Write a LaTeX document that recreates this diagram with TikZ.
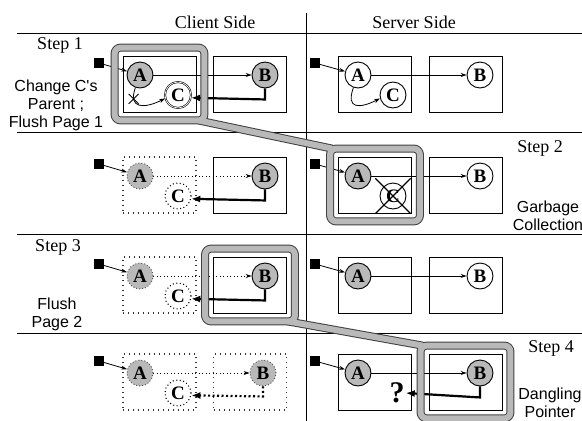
\documentclass[tikz,border=0pt]{standalone}
\usepackage{fontspec}
\setmainfont{Liberation Serif}
\newfontfamily\lsans{Liberation Sans}
\usetikzlibrary{arrows.meta,shapes.misc,calc}
\tikzset{
  pagebox/.style={draw, line width=0.8pt, minimum width=73pt, minimum height=56pt, inner sep=0pt},
  dotbox/.style={pagebox, draw=black!80, dash pattern=on 1pt off 4pt, line width=1.1pt},
  obj/.style={circle, draw, line width=0.9pt, minimum size=26pt, inner sep=0pt, font=\fontsize{19}{19}\selectfont\bfseries},
  objg/.style={obj, fill=gray!55},
  objgd/.style={obj, fill=gray!55, draw=black!70, dash pattern=on 1pt off 2pt},
  objd/.style={obj, dash pattern=on 1pt off 2.5pt, line width=1.1pt},
  rootsq/.style={fill=black, draw, minimum size=9pt, inner sep=0pt},
  thinarr/.style={line width=0.8pt, -{Stealth[length=6pt,width=4pt]}},
  dotarr/.style={thinarr, dash pattern=on 1pt off 2.5pt},
  thickarr/.style={line width=2.2pt, -{Latex[length=9pt,width=7pt]}},
  thickdot/.style={thickarr, dash pattern=on 2pt off 2.5pt},
  seprule/.style={line width=1pt},
  bandout/.style={draw=black!75, line width=8pt, rounded corners=6pt, line join=round},
  bandin/.style={draw=gray!55, line width=6pt, rounded corners=6pt, line join=round},
  hdr/.style={font=\fontsize{18}{18}\selectfont},
  lbl/.style={font=\lsans\fontsize{16}{18}\selectfont, align=center},
  xmark/.style={draw, cross out, inner sep=0pt},
}
\newcommand\fbands[1]{%
  \draw[#1] ($(cAb1.north west)+(-8,-8)$) rectangle ($(cAb1.south east)+(8,8)$);
  \draw[#1] ($(sAb2.north west)+(-8,-8)$) rectangle ($(sAb2.south east)+(8,8)$);
  \draw[#1] ($(cBb3.north west)+(-8,-8)$) rectangle ($(cBb3.south east)+(8,8)$);
  \draw[#1] ($(sBb4.north west)+(-8,-8)$) rectangle ($(sBb4.south east)+(8,8)$);
  \draw[#1, rounded corners=0pt, line cap=butt] ($(cAb1.south east)+(2,8)$) -- ($(sAb2.north west)+(-6,-8)$);
  \draw[#1, rounded corners=0pt, line cap=butt] ($(cBb3.south east)+(1,8)$) -- ($(sBb4.north west)+(-6,-8)$);
}
\begin{document}
\begin{tikzpicture}[x=1pt,y=-1pt]
\useasboundingbox (0,0) rectangle (582,421);
% rules
\coordinate (h0) at (17,33); \coordinate (h1) at (582,33);
\coordinate (v0) at (306,13); \coordinate (v1) at (306,421);
\coordinate (r1a) at (17,132); \coordinate (r1b) at (582,132);
\coordinate (r2a) at (17,234); \coordinate (r2b) at (582,234);
\coordinate (r3a) at (17,333); \coordinate (r3b) at (582,333);
\draw[seprule] (h0) -- (h1);
\draw[seprule] (v0) -- (v1);
\draw[seprule] (r1a) -- (r1b);
\draw[seprule] (r2a) -- (r2b);
\draw[seprule] (r3a) -- (r3b);
% headers and labels
\node[hdr] (hc) at (215,22) {Client Side};
\node[hdr] (hs) at (414,22) {Server Side};
\node[hdr] (st1) at (60,45) {Step 1};
\node[hdr] (st2) at (540,148) {Step 2};
\node[hdr] (st3) at (58,247) {Step 3};
\node[hdr] (st4) at (551,348) {Step 4};
\node[lbl] (l1) at (56,105) {Change C's\\Parent ;\\Flush Page 1};
\node[lbl] (l3) at (57,314) {Flush\\Page 2};
\node[lbl] (l2) at (548,216) {Garbage\\Collection};
\node[lbl] (l4) at (550,403) {Dangling\\Pointer};
% ===== Row 1 (top 56)
\node[pagebox] (cAb1) at (159.5,84) {};
\node[pagebox] (cBb1) at (250,84) {};
\node[pagebox] (sAb1) at (375,84) {};
\node[pagebox] (sBb1) at (465.5,84) {};
\node[rootsq] (cq1) at (99,63) {};
\node[rootsq] (sq1) at (315,63) {};
\node[objg] (cA1) at (140,75) {A};
\node[obj, double, double distance=0.7pt, line width=0.6pt] (cC1) at (178,95) {C};
\node[objg] (cB1) at (265,75) {B};
\node[obj] (sA1) at (358,75) {A};
\node[obj] (sC1) at (393,95) {C};
\node[obj] (sB1) at (480,75) {B};
\draw[thinarr] (cq1) -- (cA1);
\draw[thinarr] (cA1) -- (cB1);
\draw[thinarr] (cA1.250) .. controls +(-8,22) and +(-20,10) .. node[pos=0.22, xmark, minimum size=9pt, line width=0.9pt] (x1) {} (cC1.195);
\draw[thickarr] (cB1.south) -- ++(0,11) -- (cC1.-12);
\draw[thinarr] (sq1) -- (sA1);
\draw[thinarr] (sA1) -- (sB1);
\draw[thinarr] (sA1.250) .. controls +(-8,22) and +(-20,10) .. (sC1.195);
% ===== Row 2 (top 157)
\node[dotbox] (cAb2) at (159.5,185) {};
\node[pagebox] (cBb2) at (250,185) {};
\node[pagebox] (sAb2) at (375,185) {};
\node[pagebox] (sBb2) at (465.5,185) {};
\node[rootsq] (cq2) at (99,164) {};
\node[rootsq] (sq2) at (315,164) {};
\node[objgd] (cA2) at (140,176) {A};
\node[objd] (cC2) at (178,196) {C};
\node[objg] (cB2) at (265,176) {B};
\node[objg] (sA2) at (358,176) {A};
\node[obj] (sC2) at (393,196) {C};
\node[obj] (sB2) at (480,176) {B};
\node[xmark, minimum size=34pt, line width=1.3pt] (xc2) at (sC2) {};
\draw[thinarr] (cq2) -- (cA2);
\draw[dotarr] (cA2) -- (cB2);
\draw[thickarr] (cB2.south) -- ++(0,11) -- (cC2.-12);
\draw[thinarr] (sq2) -- (sA2);
\draw[thinarr] (sA2) -- (sB2);
% ===== Row 3 (top 257)
\node[dotbox] (cAb3) at (159.5,285) {};
\node[pagebox] (cBb3) at (250,285) {};
\node[pagebox] (sAb3) at (375,285) {};
\node[pagebox] (sBb3) at (465.5,285) {};
\node[rootsq] (cq3) at (99,264) {};
\node[rootsq] (sq3) at (315,264) {};
\node[objgd] (cA3) at (140,276) {A};
\node[objd] (cC3) at (178,296) {C};
\node[objg] (cB3) at (265,276) {B};
\node[objg] (sA3) at (358,276) {A};
\node[obj] (sB3) at (480,276) {B};
\draw[thinarr] (cq3) -- (cA3);
\draw[dotarr] (cA3) -- (cB3);
\draw[thickarr] (cB3.south) -- ++(0,11) -- (cC3.-12);
\draw[thinarr] (sq3) -- (sA3);
\draw[thinarr] (sA3) -- (sB3);
% ===== Row 4 (top 354)
\node[dotbox] (cAb4) at (159.5,382) {};
\node[dotbox] (cBb4) at (250,382) {};
\node[pagebox] (sAb4) at (375,382) {};
\node[pagebox] (sBb4) at (465.5,382) {};
\node[rootsq] (cq4) at (99,361) {};
\node[rootsq] (sq4) at (315,361) {};
\node[objgd] (cA4) at (140,373) {A};
\node[objd] (cC4) at (178,393) {C};
\node[objgd] (cB4) at (263,373) {B};
\node[objg] (sA4) at (358,373) {A};
\node[objg] (sB4) at (480,373) {B};
\node[font=\fontsize{30}{30}\selectfont\bfseries, inner sep=1pt] (q) at (397,393) {?};
\draw[thinarr] (cq4) -- (cA4);
\draw[dotarr] (cA4) -- (cB4);
\draw[thickdot] (cB4.south) -- ++(0,10) -- (cC4.-10);
\draw[thinarr] (sq4) -- (sA4);
\draw[thinarr] (sA4) -- (sB4);
\draw[thickarr] (sB4.south) -- ++(0,11) -- (q.east);
% ===== highlight frames and bands
\fbands{bandout}
\fbands{bandin}
\end{tikzpicture}
\end{document}
